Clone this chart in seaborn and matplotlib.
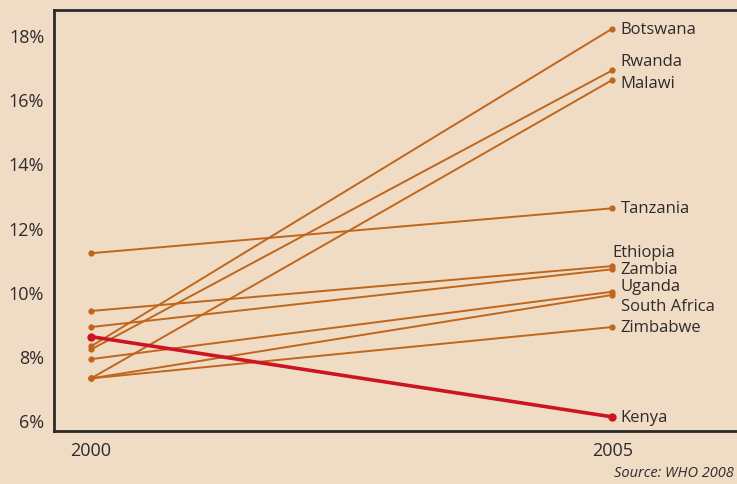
import pandas as pd
import matplotlib
matplotlib.use("Agg")
import matplotlib.pyplot as plt
import seaborn as sns

# values (percent)
countries = ['Botswana', 'Rwanda', 'Malawi', 'Tanzania', 'Ethiopia', 'Zambia',
             'Uganda', 'South Africa', 'Zimbabwe', 'Kenya']
rate_2000 = [8.3, 8.2, 7.3, 11.2, 9.4, 8.9, 7.9, 7.3, 7.3, 8.6]
rate_2005 = [18.2, 16.9, 16.6, 12.6, 10.8, 10.7, 10.0, 9.9, 8.9, 6.1]
years = [2000, 2005]
ytick_vals = [6, 8, 10, 12, 14, 16, 18]

# label nudges (points) so overlapping names stay readable
label_dx = {'Ethiopia': -6, 'South Africa': 0}
label_dy = {'Rwanda': 6.5, 'Malawi': -2, 'Ethiopia': 10, 'Uganda': 4, 'South Africa': -8}

bg = '#f0dcc4'
orange = '#c0661c'
red = '#cc1422'
txt = '#2f2b2b'

rows = []
for c, a, b in zip(countries, rate_2000, rate_2005):
    rows.append({'country': c, 'year': years[0], 'rate': a})
    rows.append({'country': c, 'year': years[1], 'rate': b})
df = pd.DataFrame(rows)

sns.set_style('white')
plt.rcParams['font.family'] = ['Open Sans', 'DejaVu Sans']

fig = plt.figure(figsize=(7.37, 4.85), dpi=100, facecolor=bg)
ax = fig.add_axes([54/737, 53/485, 698/737, 421/485])
ax.set_facecolor(bg)

others = df[df['country'] != 'Kenya']
sns.lineplot(data=others, x='year', y='rate', units='country', estimator=None,
             color=orange, lw=1.4, marker='o', markersize=4.5,
             markeredgewidth=0, ax=ax)
sns.lineplot(data=df[df['country'] == 'Kenya'], x='year', y='rate',
             color=red, lw=2.6, marker='o', markersize=6,
             markeredgewidth=0, ax=ax)

for c, v in zip(countries, rate_2005):
    ax.annotate(c, xy=(years[1], v),
                xytext=(6 + label_dx.get(c, 0), label_dy.get(c, 0)),
                textcoords='offset points', ha='left', va='center',
                fontsize=12, color=txt)

ax.set_xlim(1999.645, 2006.34)
ax.set_ylim(5.66, 18.78)
ax.set_xticks(years)
ax.set_xticklabels([str(y) for y in years])
ax.set_yticks(ytick_vals)
ax.set_yticklabels([f'{v}%' for v in ytick_vals])
ax.tick_params(axis='both', length=0, labelsize=13, labelcolor=txt)
ax.tick_params(axis='x', pad=7)
ax.tick_params(axis='y', pad=7)
ax.set_xlabel('')
ax.set_ylabel('')

for s in ['left', 'bottom', 'top']:
    ax.spines[s].set_color('#2b2b2b')
    ax.spines[s].set_linewidth(2)
ax.spines['right'].set_visible(False)

fig.text(734/737, 1 - 474/485, 'Source: WHO 2008', fontsize=10.5, style='italic',
         color=txt, ha='right', va='center')

fig.savefig('out.png', dpi=100, facecolor=bg)
